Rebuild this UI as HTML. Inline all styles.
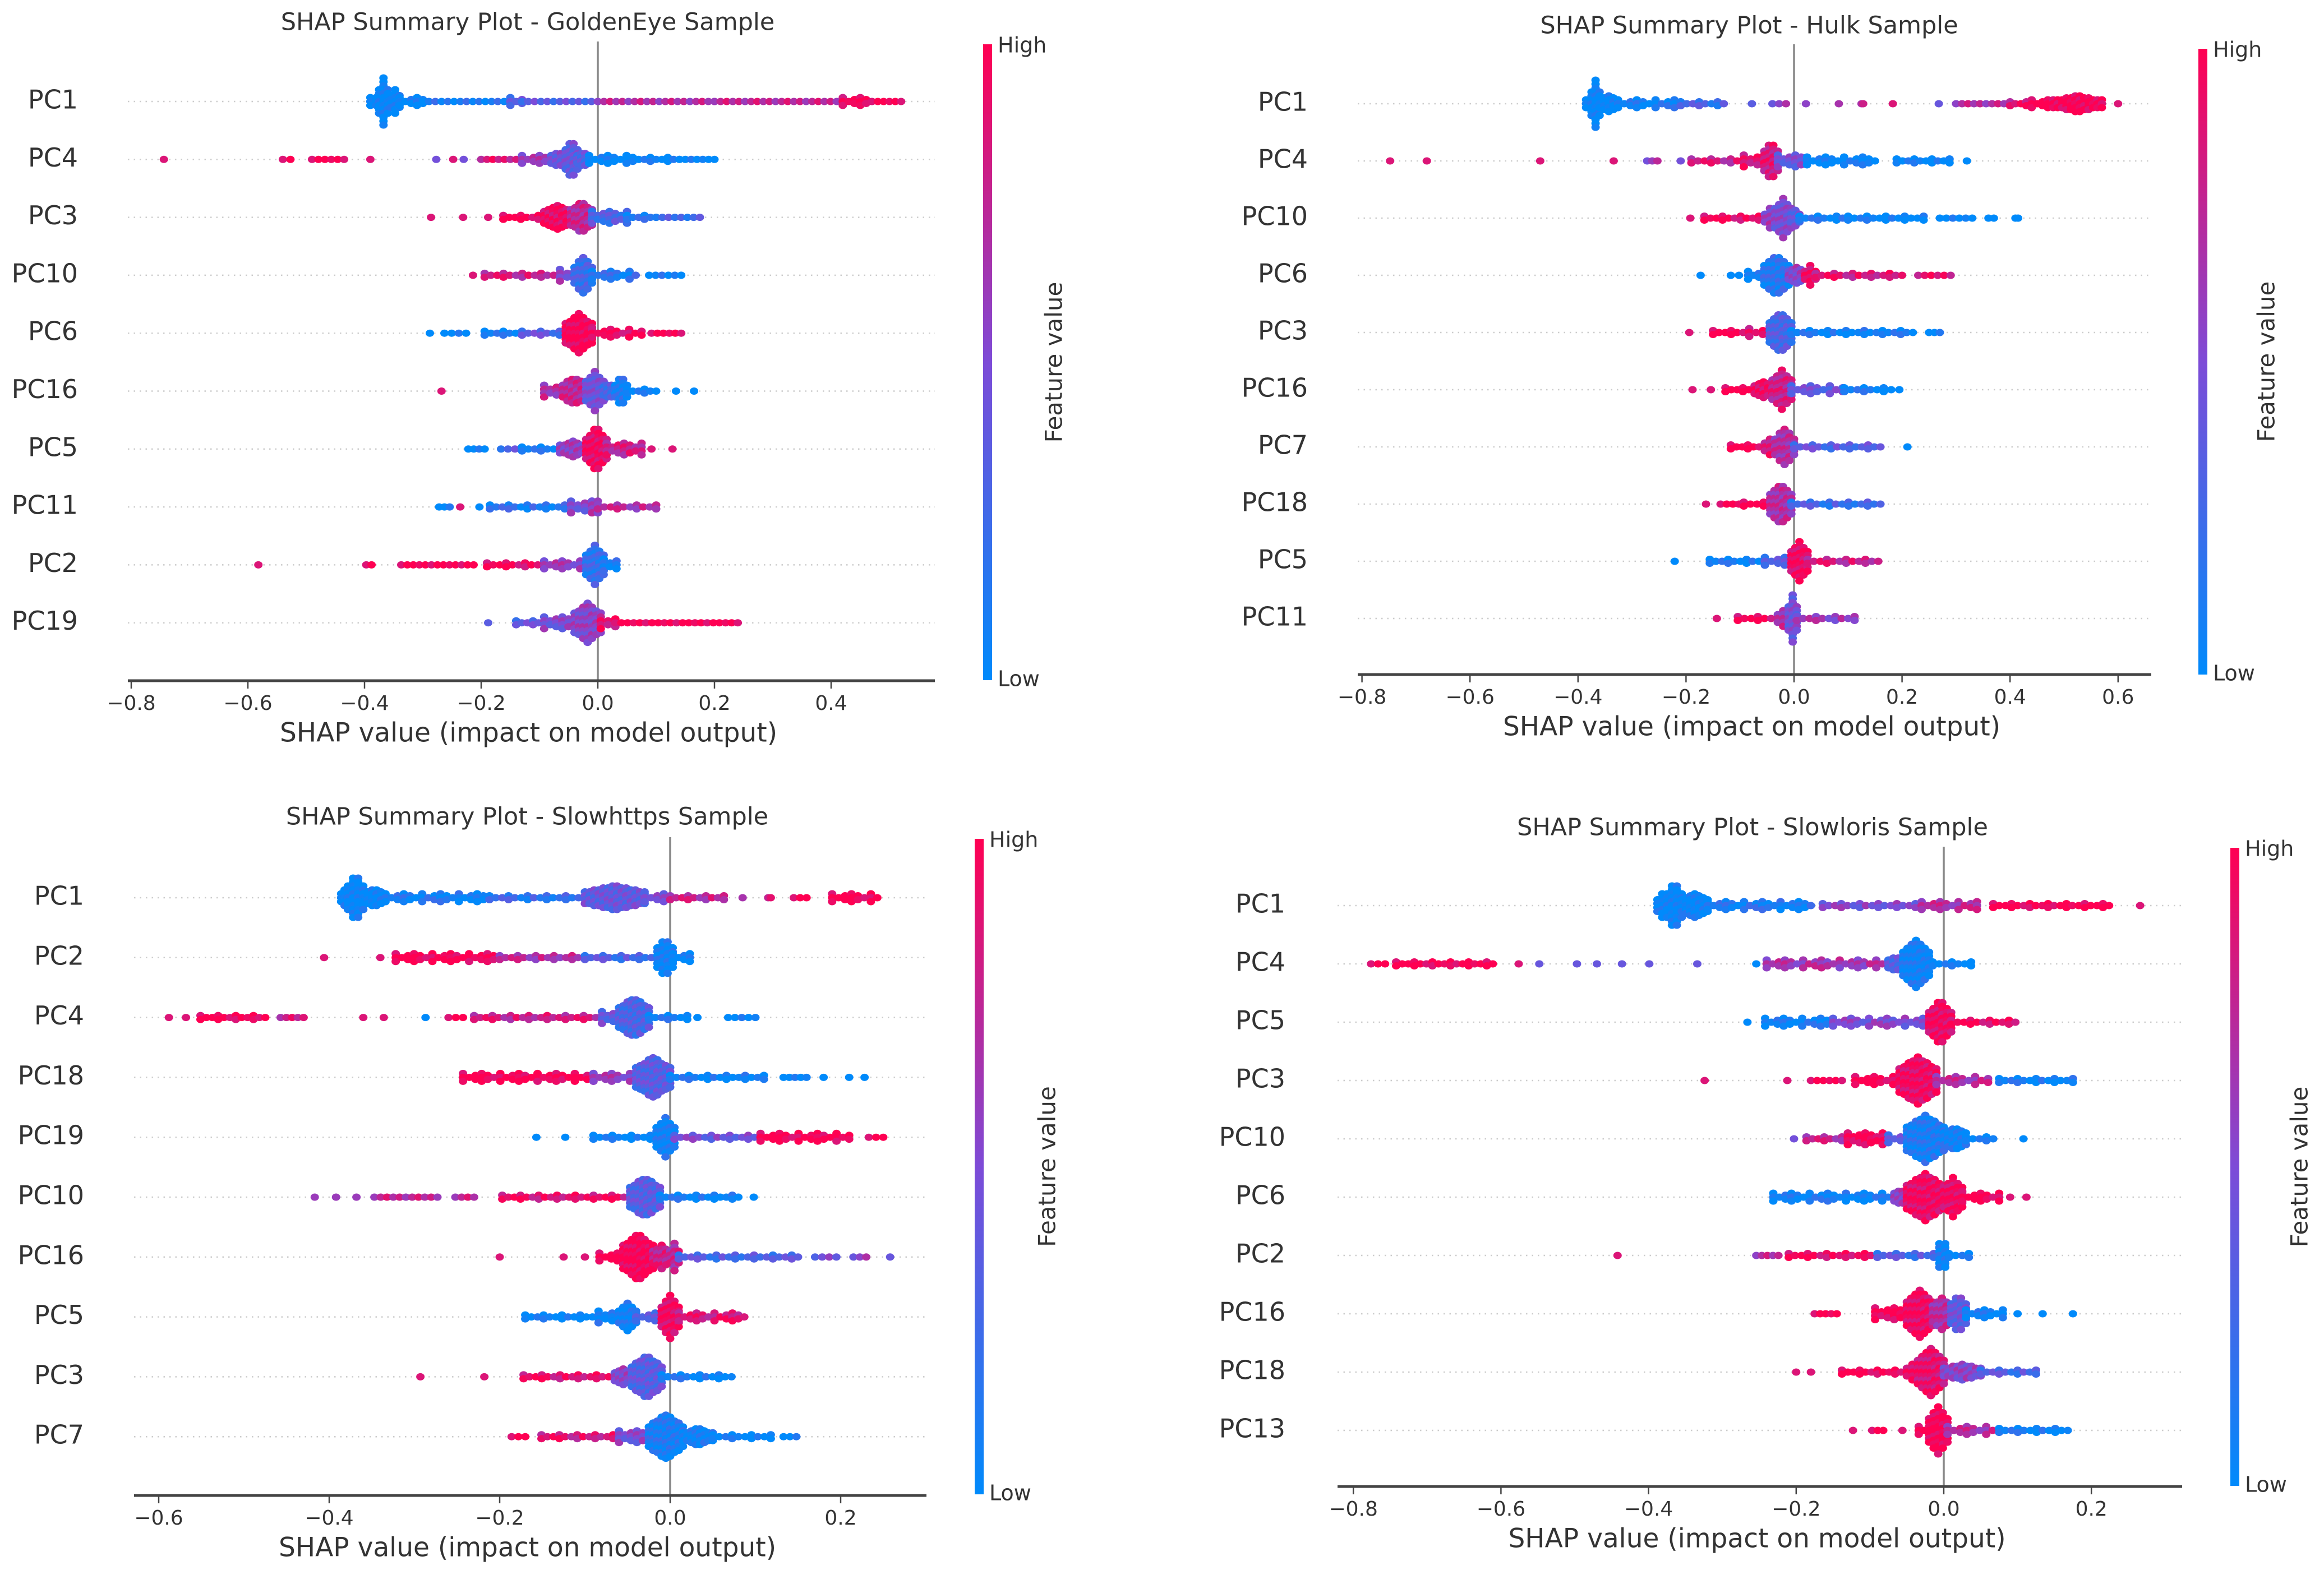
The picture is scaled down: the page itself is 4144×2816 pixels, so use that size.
<!DOCTYPE html>
<html><head><meta charset="utf-8">
<style>
html,body{margin:0;padding:0;background:#fff;}
svg{display:block;}
text{font-family:"DejaVu Sans","Liberation Sans",sans-serif;fill:#333;}
</style></head>
<body>
<svg id="chart" xmlns="http://www.w3.org/2000/svg" width="4144" height="2816" viewBox="0 0 4144 2816">
<defs>
<linearGradient id="cbgrad" x1="0" y1="1" x2="0" y2="0">
<stop offset="0" stop-color="rgb(0,138,251)"/>
<stop offset="0.5" stop-color="rgb(125,75,215)"/>
<stop offset="1" stop-color="rgb(255,0,82)"/>
</linearGradient>
</defs>
</svg>
<script>
// ---- Panel 1: GoldenEye ----
const p1Features = ["PC1","PC4","PC3","PC10","PC6","PC16","PC5","PC11","PC2","PC19"];
const p1Ticks = [-0.8,-0.6,-0.4,-0.2,0.0,0.2,0.4];
const p1Segments = [
 [[-0.39,-0.38,5,0],[-0.375,-0.36,13,0],[-0.355,-0.34,7,0],[-0.34,-0.30,3,0],[-0.30,-0.15,1,0.1],[-0.15,-0.13,3,0.35],[-0.13,0.0,1,0.35],[0.0,0.2,1,0.7],[0.2,0.42,1,0.75],[0.42,0.47,3,0.95],[0.47,0.52,1,1]],
 [[-0.744,-0.744,1,1],[-0.54,-0.527,1,1],[-0.49,-0.435,1,1],[-0.39,-0.39,1,1],[-0.277,-0.277,1,0.6],[-0.248,-0.248,1,1],[-0.23,-0.23,1,0.6],[-0.2,-0.13,1,0.85],[-0.13,-0.08,3,0.6],[-0.08,-0.055,5,0.45],[-0.055,-0.035,11,0.4],[-0.035,-0.015,5,0.35],[-0.015,0.06,3,0],[0.06,0.14,2,0],[0.14,0.2,1,0]],
 [[-0.286,-0.286,1,1],[-0.231,-0.231,1,1],[-0.188,-0.188,1,1],[-0.162,-0.092,2,1],[-0.092,-0.046,7,0.95],[-0.046,-0.01,9,0.75],[-0.01,0.05,4,0.3],[0.05,0.1,2,0.1],[0.1,0.175,1,0.25]],
 [[-0.214,-0.214,1,1],[-0.194,-0.065,2,0.8],[-0.065,-0.04,4,0.55],[-0.04,-0.01,10,0.25],[-0.01,0.065,3,0.15],[0.088,0.143,1,0.05]],
 [[-0.288,-0.288,1,0],[-0.263,-0.226,1,0],[-0.194,-0.13,2,0.05],[-0.13,-0.055,2,0.35],[-0.055,-0.01,11,1],[-0.01,0.075,3,0.95],[0.092,0.143,1,1]],
 [[-0.268,-0.268,1,1],[-0.092,-0.06,4,0.7],[-0.06,-0.02,8,0.75],[-0.02,0.01,11,0.45],[0.01,0.03,5,0.3],[0.03,0.05,8,0.1],[0.05,0.1,2,0],[0.134,0.134,1,0],[0.165,0.165,1,0]],
 [[-0.222,-0.194,1,0],[-0.166,-0.13,1,0.3],[-0.13,-0.065,2,0.05],[-0.065,-0.02,5,0.6],[-0.02,0.015,12,0.95],[0.015,0.075,4,0.8],[0.092,0.092,1,1],[0.128,0.128,1,1]],
 [[-0.272,-0.254,1,0],[-0.236,-0.236,1,1],[-0.203,-0.203,1,0],[-0.185,-0.046,2,0.15],[-0.046,-0.01,4,0.5],[-0.01,0.0,8,0.6],[0.0,0.1,2,0.7]],
 [[-0.582,-0.582,1,1],[-0.397,-0.388,1,1],[-0.337,-0.213,1,1],[-0.19,-0.092,2,0.95],[-0.092,-0.02,3,0.6],[-0.02,0.01,11,0.2],[0.01,0.032,4,0.1]],
 [[-0.188,-0.188,1,0.5],[-0.14,-0.092,2,0.35],[-0.092,-0.04,4,0.5],[-0.04,0.005,11,0.55],[0.005,0.03,4,0.9],[0.03,0.24,1,1]]
];
// ---- Panel 2: Hulk ----
const p2Features = ["PC1","PC4","PC10","PC6","PC3","PC16","PC7","PC18","PC5","PC11"];
const p2Ticks = [-0.8,-0.6,-0.4,-0.2,0.0,0.2,0.4,0.6];
const p2Segments = [
 [[-0.385,-0.375,5,0],[-0.375,-0.36,13,0],[-0.36,-0.326,5,0],[-0.326,-0.21,3,0.05],[-0.21,-0.13,2,0.25],[-0.078,-0.078,1,0.5],[-0.04,-0.015,1,0.55],[0.022,0.022,1,0.7],[0.083,0.083,1,0.8],[0.125,0.128,1,0.8],[0.183,0.183,1,1],[0.268,0.268,1,0.55],[0.3,0.4,1,0.7],[0.4,0.44,2,0.85],[0.44,0.48,3,1],[0.48,0.57,5,1],[0.6,0.6,1,1]],
 [[-0.748,-0.748,1,1],[-0.68,-0.68,1,1],[-0.47,-0.47,1,1],[-0.334,-0.334,1,1],[-0.272,-0.253,1,0.6],[-0.21,-0.21,1,0.6],[-0.19,-0.093,2,0.8],[-0.093,-0.055,4,0.9],[-0.055,-0.03,11,0.85],[-0.03,0.024,4,0.45],[0.024,0.15,3,0],[0.19,0.288,2,0],[0.32,0.32,1,0]],
 [[-0.192,-0.192,1,1],[-0.166,-0.054,2,0.95],[-0.054,-0.035,6,0.6],[-0.035,-0.005,11,0.5],[-0.005,0.01,5,0.4],[0.01,0.09,2,0.05],[0.1,0.24,2,0],[0.27,0.33,1,0],[0.36,0.37,1,0],[0.41,0.415,1,0]],
 [[-0.173,-0.173,1,0],[-0.117,-0.102,1,0],[-0.085,-0.055,3,0.05],[-0.055,-0.01,11,0.15],[-0.01,0.02,5,0.55],[0.02,0.04,6,0.95],[0.04,0.2,2,0.85],[0.23,0.29,1,0.9]],
 [[-0.194,-0.194,1,1],[-0.15,-0.083,2,1],[-0.083,-0.045,3,0.9],[-0.045,-0.005,11,0.3],[-0.005,0.22,2,0.05],[0.25,0.27,1,0]],
 [[-0.188,-0.188,1,1],[-0.154,-0.154,1,1],[-0.127,-0.073,2,1],[-0.073,-0.04,5,0.95],[-0.04,-0.005,11,0.8],[-0.005,0.09,3,0.4],[0.093,0.166,2,0.05],[0.18,0.195,1,0]],
 [[-0.117,-0.054,2,1],[-0.054,-0.035,5,0.85],[-0.035,0.0,10,0.7],[0.0,0.16,2,0.35],[0.21,0.21,1,0]],
 [[-0.163,-0.163,1,1],[-0.136,-0.102,1,1],[-0.093,-0.044,2,1],[-0.044,-0.005,11,0.7],[-0.005,0.16,2,0.25]],
 [[-0.221,-0.221,1,0],[-0.156,-0.054,2,0.05],[-0.054,-0.005,3,0.3],[-0.005,0.025,11,0.95],[0.025,0.156,2,0.8]],
 [[-0.143,-0.143,1,1],[-0.104,-0.03,2,0.95],[-0.03,-0.01,5,0.7],[-0.01,0.005,13,0.45],[0.005,0.112,2,0.6]]
];
// ---- Panel 3: Slowhttps ----
const p3Features = ["PC1","PC2","PC4","PC18","PC19","PC10","PC16","PC5","PC3","PC7"];
const p3Ticks = [-0.6,-0.4,-0.2,0.0,0.2];
const p3Segments = [
 [[-0.386,-0.378,5,0],[-0.378,-0.36,13,0],[-0.36,-0.334,5,0],[-0.334,-0.212,3,0.08],[-0.212,-0.1,2,0.2],[-0.1,-0.03,7,0.4],[-0.03,0.0,3,0.45],[0.0,0.063,2,0.75],[0.085,0.085,1,0.8],[0.115,0.118,1,0.9],[0.145,0.16,1,1],[0.19,0.243,3,1]],
 [[-0.406,-0.406,1,1],[-0.34,-0.34,1,1],[-0.322,-0.2,3,1],[-0.2,-0.108,2,0.7],[-0.1,-0.015,2,0.3],[-0.015,0.003,11,0.05],[0.003,0.023,3,0]],
 [[-0.588,-0.588,1,1],[-0.568,-0.568,1,1],[-0.551,-0.475,2,1],[-0.457,-0.43,1,0.8],[-0.36,-0.36,1,1],[-0.336,-0.336,1,1],[-0.287,-0.287,1,0],[-0.26,-0.243,1,1],[-0.23,-0.08,2,0.8],[-0.08,-0.06,4,0.4],[-0.06,-0.025,11,0.3],[-0.025,0.02,2,0.05],[0.032,0.032,1,0],[0.068,0.1,1,0]],
 [[-0.243,-0.09,3,1],[-0.09,-0.04,3,0.6],[-0.04,0.0,11,0.35],[0.0,0.11,2,0.05],[0.133,0.16,1,0],[0.18,0.18,1,0],[0.21,0.21,1,0],[0.228,0.228,1,0]],
 [[-0.157,-0.157,1,0],[-0.123,-0.123,1,0],[-0.09,-0.016,2,0],[-0.016,0.005,11,0.05],[0.005,0.106,2,0.45],[0.106,0.21,3,1],[0.233,0.25,1,1]],
 [[-0.417,-0.417,1,0.75],[-0.392,-0.392,1,0.75],[-0.368,-0.368,1,0.75],[-0.347,-0.273,1,0.75],[-0.252,-0.23,1,0.75],[-0.197,-0.047,2,0.9],[-0.047,-0.012,11,0.35],[-0.012,0.08,2,0.05],[0.098,0.098,1,0]],
 [[-0.2,-0.2,1,1],[-0.125,-0.125,1,1],[-0.1,-0.1,1,1],[-0.083,-0.055,3,1],[-0.055,-0.02,13,1],[-0.02,0.0,7,0.8],[0.0,0.01,8,0.75],[0.01,0.15,2,0.3],[0.17,0.195,1,0.45],[0.215,0.23,1,0.55],[0.258,0.258,1,0.55]],
 [[-0.17,-0.084,2,0],[-0.084,-0.06,4,0.05],[-0.06,-0.04,8,0.05],[-0.04,-0.01,3,0.3],[-0.01,0.01,12,0.95],[0.01,0.087,3,0.85]],
 [[-0.293,-0.293,1,1],[-0.218,-0.218,1,1],[-0.172,-0.065,2,0.9],[-0.065,-0.045,5,0.55],[-0.045,-0.01,12,0.35],[-0.01,0.072,2,0.05]],
 [[-0.186,-0.17,1,1],[-0.151,-0.06,2,0.85],[-0.06,-0.025,4,0.5],[-0.025,0.015,12,0.1],[0.015,0.05,5,0.05],[0.05,0.118,2,0],[0.133,0.148,1,0]]
];
// ---- Panel 4: Slowloris ----
const p4Features = ["PC1","PC4","PC5","PC3","PC10","PC6","PC2","PC16","PC18","PC13"];
const p4Ticks = [-0.8,-0.6,-0.4,-0.2,0.0,0.2];
const p4Segments = [
 [[-0.388,-0.375,7,0],[-0.375,-0.355,13,0],[-0.355,-0.32,7,0],[-0.32,-0.18,3,0.1],[-0.164,-0.03,2,0.5],[-0.03,0.045,3,0.7],[0.067,0.224,2,1],[0.266,0.266,1,1]],
 [[-0.776,-0.757,1,1],[-0.742,-0.611,2,1],[-0.576,-0.576,1,1],[-0.548,-0.548,1,0.55],[-0.497,-0.497,1,0.55],[-0.47,-0.47,1,0.55],[-0.436,-0.436,1,0.55],[-0.399,-0.399,1,0.55],[-0.334,-0.334,1,0.55],[-0.254,-0.254,1,0],[-0.24,-0.075,3,0.65],[-0.075,-0.055,5,0.35],[-0.055,-0.02,13,0.05],[-0.015,0.037,2,0]],
 [[-0.266,-0.266,1,0],[-0.242,-0.15,3,0.05],[-0.15,-0.02,3,0.5],[-0.02,0.01,12,0.95],[0.01,0.097,2,0.95]],
 [[-0.324,-0.324,1,1],[-0.212,-0.212,1,1],[-0.18,-0.138,1,1],[-0.12,-0.06,3,1],[-0.06,-0.01,13,0.95],[-0.01,0.06,3,0.7],[0.075,0.175,2,0.05]],
 [[-0.203,-0.203,1,0.6],[-0.186,-0.13,2,0.75],[-0.13,-0.075,4,1],[-0.075,-0.05,3,0.35],[-0.05,0.0,13,0.1],[0.0,0.03,7,0.05],[0.03,0.067,2,0],[0.108,0.108,1,0]],
 [[-0.231,-0.067,3,0.05],[-0.067,-0.05,5,0.6],[-0.05,0.0,13,0.95],[0.0,0.025,11,0.95],[0.025,0.075,3,1],[0.09,0.09,1,1],[0.112,0.112,1,1]],
 [[-0.442,-0.442,1,1],[-0.254,-0.224,1,0.7],[-0.21,-0.09,2,0.95],[-0.09,-0.005,2,0.3],[-0.006,0.002,13,0.05],[0.007,0.034,2,0]],
 [[-0.175,-0.145,1,1],[-0.093,-0.05,4,1],[-0.05,-0.015,13,0.95],[-0.015,0.01,9,0.7],[0.01,0.03,11,0.4],[0.03,0.08,3,0.05],[0.1,0.1,1,0],[0.134,0.134,1,0],[0.175,0.175,1,0]],
 [[-0.2,-0.2,1,1],[-0.18,-0.18,1,1],[-0.138,-0.05,2,1],[-0.05,-0.035,5,0.95],[-0.035,0.0,13,0.9],[0.0,0.05,5,0.55],[0.05,0.125,2,0.3]],
 [[-0.123,-0.123,1,1],[-0.097,-0.082,1,1],[-0.056,-0.056,1,1],[-0.034,-0.02,3,1],[-0.02,0.005,13,1],[0.005,0.075,3,0.7],[0.075,0.168,2,0.05]]
];
const p1Title = "SHAP Summary Plot - GoldenEye Sample";
const p2Title = "SHAP Summary Plot - Hulk Sample";
const p3Title = "SHAP Summary Plot - Slowhttps Sample";
const p4Title = "SHAP Summary Plot - Slowloris Sample";

const panels = [
 {key:'goldeneye', title:p1Title, features:p1Features, segs:p1Segments, ticks:p1Ticks, x0:1066, k:1040, left:228, right:1667, axisY:1214, row0:181, rowStep:103.3, labelRight:139, zeroTop:74, cbX:1753, cbTop:79, cbBottom:1213, fvX:1882, titleX:941, titleY:42},
 {key:'hulk', title:p2Title, features:p2Features, segs:p2Segments, ticks:p2Ticks, x0:3199, k:963, left:2421, right:3836, axisY:1203, row0:185, rowStep:102, labelRight:2332, zeroTop:79, cbX:3920, cbTop:87, cbBottom:1203, fvX:4044, titleX:3119, titleY:48},
 {key:'slowhttps', title:p3Title, features:p3Features, segs:p3Segments, ticks:p3Ticks, x0:1195, k:1520, left:239, right:1652, axisY:2667, row0:1601, rowStep:106.8, labelRight:150, zeroTop:1493, cbX:1738, cbTop:1496, cbBottom:2665, fvX:1870, titleX:940, titleY:1459},
 {key:'slowloris', title:p4Title, features:p4Features, segs:p4Segments, ticks:p4Ticks, x0:3466, k:1316, left:2385, right:3891, axisY:2651, row0:1615, rowStep:104, labelRight:2292, zeroTop:1510, cbX:3977, cbTop:1512, cbBottom:2650, fvX:4103, titleX:3125, titleY:1478}
];

const NS = "http://www.w3.org/2000/svg";
const svg = document.getElementById('chart');
function mk(tag, attrs, parent){ const e=document.createElementNS(NS,tag); for(const a in attrs) e.setAttribute(a,attrs[a]); parent.appendChild(e); return e; }
function colorOf(c){
  c = Math.max(0, Math.min(1, c));
  const B=[0,138,251], M=[125,75,215], R=[255,0,82];
  let a,b,t; if(c<=0.5){a=B;b=M;t=c/0.5;} else {a=M;b=R;t=(c-0.5)/0.5;}
  return 'rgb('+a.map((v,i)=>Math.round(v+(b[i]-v)*t)).join(',')+')';
}
function fmt(v){ const s=Math.abs(v).toFixed(1); return v<0?'\u2212'+s:s; }

panels.forEach(p=>{
  const g = mk('g',{},svg);
  
  
  const xs = v => p.x0 + v*p.k;
  const ys = i => p.row0 + i*p.rowStep;

  const t = mk('text',{x:p.titleX,y:p.titleY,'text-anchor':'middle','dominant-baseline':'middle','font-size':43},g);
  t.textContent = p.title;
  
  

  p.features.forEach((f,i)=>{
    const gl = mk('line',{x1:p.left,x2:p.right,y1:ys(i),y2:ys(i),stroke:'#cccccc','stroke-width':2.5,'stroke-dasharray':'2.5 8'},g);
    
    
    const lb = mk('text',{x:p.labelRight,y:ys(i),'text-anchor':'end','dominant-baseline':'middle','font-size':46},g);
    lb.textContent = f;
    
    
  });

  const zl = mk('line',{x1:xs(0),x2:xs(0),y1:p.zeroTop,y2:p.axisY,stroke:'#888','stroke-width':3.5},g);
  
  

  p.features.forEach((f,i)=>{
    const rg = mk('g',{},g);
    
    
    const yc = ys(i);
    p.segs[i].forEach(s=>{
      const [a,b,n,c] = s;
      const x1 = xs(a), x2 = xs(b);
      const len = x2-x1;
      const small = n < 5;
      const stepPx = small ? 11 : 8;
      const steps = Math.max(1, Math.round(len/stepPx));
      for(let j=0;j<=(len<1?0:steps);j++){
        const tt = len<1?0.5:j/steps;
        const x = x1 + len*(len<1?0:tt);
        let h = n;
        if(!small && len>=1) h = Math.max(1, Math.round(n*(1-0.5*Math.abs(2*tt-1))));
        else if(small && n>1) h = (j%3===0) ? n : Math.max(1, n-1 - (j%2));
        for(let k=0;k<h;k++){
          const off = (k-(h-1)/2)*7;
          const jit = 0.14*(((j*7+k*3)%5)-2)/2;
          const d = mk('ellipse',{cx:x.toFixed(1),cy:(yc+off).toFixed(1),rx:7.5,ry:6.5,fill:colorOf(c+jit)},rg);
          
          
        }
      }
    });
  });

  const ax = mk('line',{x1:p.left,x2:p.right,y1:p.axisY,y2:p.axisY,stroke:'#444','stroke-width':5},g);
  
  
  p.ticks.forEach(v=>{
    const tk = mk('line',{x1:xs(v),x2:xs(v),y1:p.axisY,y2:p.axisY+14,stroke:'#444','stroke-width':2.5},g);
    
    
    const tl = mk('text',{x:xs(v),y:p.axisY+42,'text-anchor':'middle','dominant-baseline':'middle','font-size':36},g);
    tl.textContent = fmt(v);
    
    
  });
  const xl = mk('text',{x:(p.left+p.right)/2-5,y:p.axisY+96,'text-anchor':'middle','dominant-baseline':'middle','font-size':47},g);
  xl.textContent = 'SHAP value (impact on model output)';
  
  

  const cb = mk('rect',{x:p.cbX,y:p.cbTop,width:16,height:p.cbBottom-p.cbTop,fill:'url(#cbgrad)'},g);
  
  
  const hi = mk('text',{x:p.cbX+26,y:p.cbTop+4,'dominant-baseline':'middle','font-size':38},g);
  hi.textContent = 'High';
  
  
  const lo = mk('text',{x:p.cbX+26,y:p.cbBottom,'dominant-baseline':'middle','font-size':38},g);
  lo.textContent = 'Low';
  
  
  const cy = (p.cbTop+p.cbBottom)/2;
  const fv = mk('text',{x:p.fvX,y:cy,'text-anchor':'middle','dominant-baseline':'middle','font-size':42,transform:'rotate(-90 '+p.fvX+' '+cy+')'},g);
  fv.textContent = 'Feature value';
  
  
});
</script>
</body></html>
